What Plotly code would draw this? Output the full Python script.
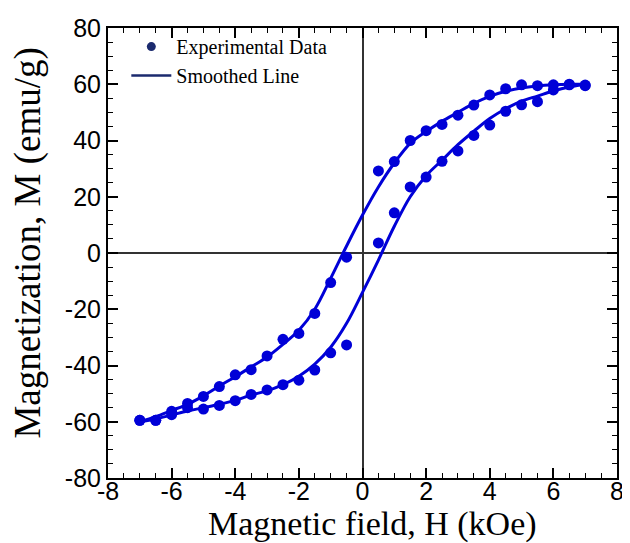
import plotly.graph_objects as go

# Experimental data, descending-field branch (+7 -> -7 kOe)
H_desc = [7, 6.5, 6, 5.5, 5, 4.5, 4, 3.5, 3, 2.5, 2, 1.5, 1, 0.5,
          -0.5, -1, -1.5, -2, -2.5, -3, -3.5, -4, -4.5, -5, -5.5, -6, -6.5, -7]
M_desc = [59.5, 59.8, 59.8, 59.5, 59.8, 58.4, 56.2, 52.6, 49.0, 45.7, 43.5, 40.0, 32.5, 29.2,
          -1.5, -10.5, -21.5, -28.6, -30.7, -36.6, -41.5, -43.3, -47.5, -51.0, -53.5, -56.3, -59.5, -59.5]

# Experimental data, ascending-field branch (-7 -> +7 kOe)
H_asc = [-7, -6.5, -6, -5.5, -5, -4.5, -4, -3.5, -3, -2.5, -2, -1.5, -1, -0.5,
         0.5, 1, 1.5, 2, 2.5, 3, 3.5, 4, 4.5, 5, 5.5, 6, 6.5, 7]
M_asc = [-59.5, -59.5, -57.5, -55.0, -55.5, -54.2, -52.5, -50.3, -48.7, -46.8, -45.2, -41.6, -35.5, -32.7,
         3.6, 14.3, 23.5, 27.0, 32.6, 36.3, 41.8, 45.5, 50.4, 52.7, 53.8, 58.0, 60.0, 59.7]

# Smoothed line, descending branch
H_fit_desc = [7, 6.5, 6, 5.5, 5, 4.5, 4, 3.5, 3, 2.5, 2, 1.5, 1, 0.5, 0,
              -0.5, -1, -1.5, -2, -2.5, -3, -3.5, -4, -4.5, -5, -5.5, -6, -6.5, -7]
M_fit_desc = [60, 60, 59.8, 59.4, 58.7, 57.5, 55.7, 53.2, 50.0, 46.8, 43.2, 39.0, 32.0, 23.5, 13.5,
              2.5, -9.0, -20.0, -27.5, -32.5, -37.0, -40.5, -44.0, -47.3, -50.8, -53.8, -56.0, -58.2, -60]

# Smoothed line, ascending branch
H_fit_asc = [-7, -6.5, -6, -5.5, -5, -4.5, -4, -3.5, -3, -2.5, -2, -1.5, -1, -0.5, 0,
             0.5, 1, 1.5, 2, 2.5, 3, 3.5, 4, 4.5, 5, 5.5, 6, 6.5, 7]
M_fit_asc = [-60, -59.0, -57.6, -56.2, -55.0, -53.8, -52.4, -50.5, -49.0, -46.8, -43.8, -39.5, -33.5, -25.0, -14.0,
             -2.5, 9.5, 20.0, 27.5, 33.0, 38.5, 43.3, 47.8, 51.3, 54.0, 55.8, 57.6, 59.0, 60]

# Tick values / labels (plain hyphen minus as in the original)
x_ticks = [-8, -6, -4, -2, 0, 2, 4, 6, 8]
x_ticklabels = ["-8", "-6", "-4", "-2", "0", "2", "4", "6", "8"]
y_ticks = [-80, -60, -40, -20, 0, 20, 40, 60, 80]
y_ticklabels = ["-80", "-60", "-40", "-20", "0", "20", "40", "60", "80"]

legend_names = ["Experimental Data", "Smoothed Line"]
x_title = "Magnetic field, H (kOe)"
y_title = "Magnetization, M (emu/g)"

BLUE = "rgb(0,0,215)"
NAVY = "#1b2a6e"
SERIF = "Liberation Serif, Times New Roman"

fig = go.Figure()

for hx, my in ((H_fit_desc, M_fit_desc), (H_fit_asc, M_fit_asc)):
    fig.add_trace(go.Scatter(x=hx, y=my, mode="lines",
                             line=dict(color=BLUE, width=3, shape="spline"),
                             showlegend=False, hoverinfo="skip"))
for hx, my in ((H_desc, M_desc), (H_asc, M_asc)):
    fig.add_trace(go.Scatter(x=hx, y=my, mode="markers",
                             marker=dict(color=BLUE, size=11), showlegend=False))

# legend entries (dark navy symbols as in the original)
fig.add_trace(go.Scatter(x=[None], y=[None], mode="markers", marker=dict(color=NAVY, size=9),
                         name=legend_names[0]))
fig.add_trace(go.Scatter(x=[None], y=[None], mode="lines", line=dict(color=NAVY, width=2.5),
                         name=legend_names[1]))

axis_common = dict(
    showline=True, linecolor="black", linewidth=2, mirror="allticks",
    ticks="inside", ticklen=10, tickwidth=1.5, tickcolor="black",
    showgrid=False, zeroline=True, zerolinecolor="#333333", zerolinewidth=1.5,
    tickfont=dict(family="Liberation Sans, Arial", size=25, color="black"),
    automargin=False,
)

fig.update_xaxes(range=[-8, 8], tickvals=x_ticks, ticktext=x_ticklabels, ticklabelstandoff=-10,
                 minor=dict(dtick=0.5, tick0=-8, ticks="inside", ticklen=5, tickwidth=1.2,
                            tickcolor="black", showgrid=False),
                 **axis_common)
fig.update_yaxes(range=[-80, 80], tickvals=y_ticks, ticktext=y_ticklabels,
                 minor=dict(dtick=5, tick0=-80, ticks="inside", ticklen=5, tickwidth=1.2,
                            tickcolor="black", showgrid=False),
                 **axis_common)

fig.add_annotation(text=y_title, textangle=-90, xref="paper", yref="paper",
                   x=-0.159, y=0.521, xanchor="center", yanchor="middle", showarrow=False,
                   font=dict(family=SERIF, size=37, color="black"))
fig.add_annotation(text=x_title, xref="paper", yref="paper",
                   x=0.519, y=-0.103, xanchor="center", yanchor="middle", showarrow=False,
                   font=dict(family=SERIF, size=34, color="black"))

# page body has an 8px default margin: figure is sized/offset to compensate
fig.update_layout(
    width=622, height=535,
    margin=dict(l=100, r=13, t=20, b=65),
    paper_bgcolor="white", plot_bgcolor="white",
    legend=dict(x=0.036, y=1.002, xanchor="left", yanchor="top", bgcolor="rgba(0,0,0,0)",
                font=dict(family=SERIF, size=20, color="black"),
                itemwidth=40, tracegroupgap=0),
)

fig.write_html("out.html")
